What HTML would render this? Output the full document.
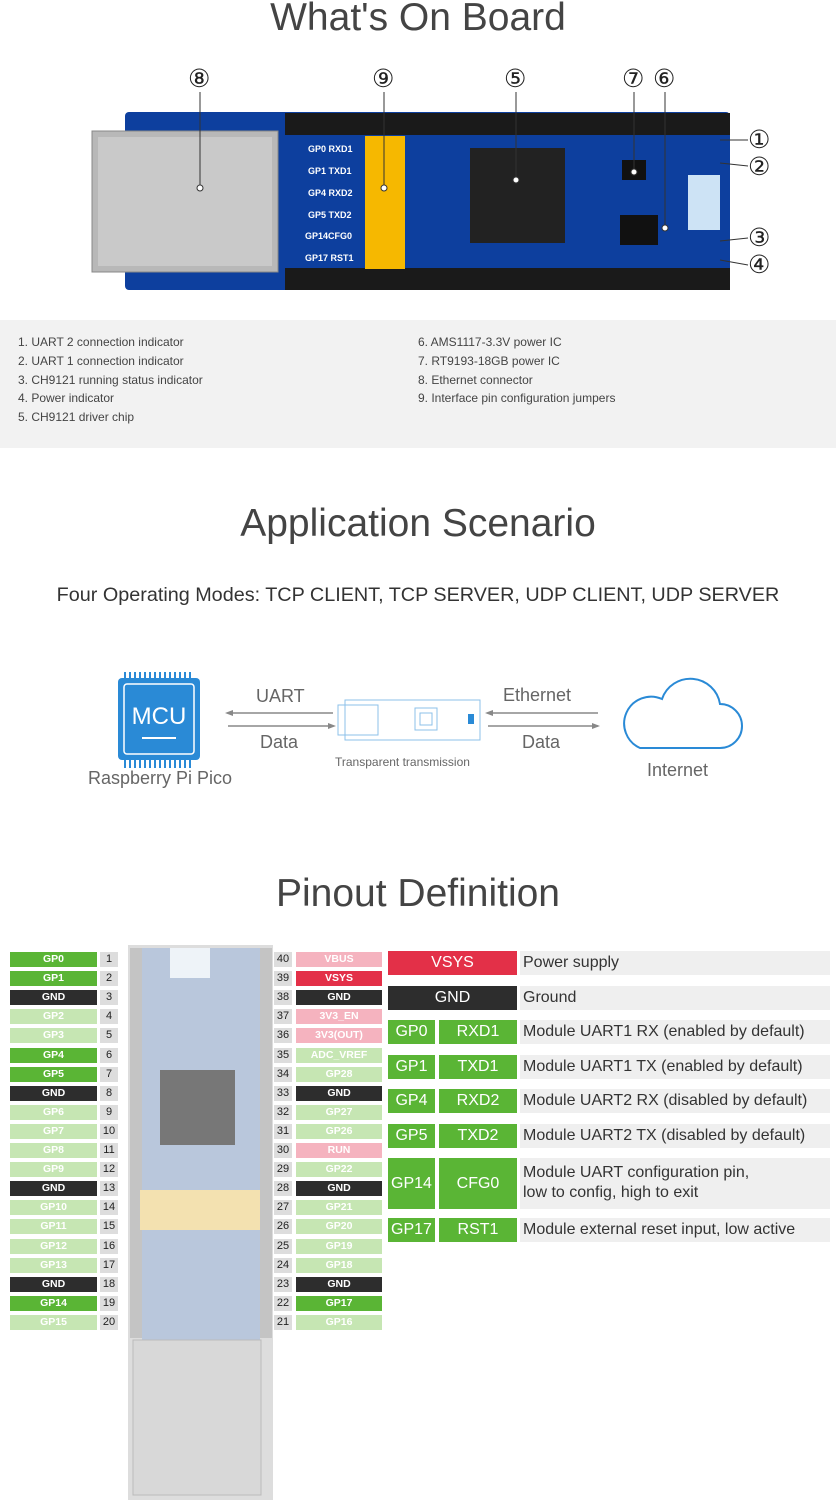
<!DOCTYPE html><html><head><meta charset="utf-8"><style>
body{margin:0;width:836px;height:1500px;position:relative;background:#fff;font-family:"Liberation Sans",sans-serif;overflow:hidden}
.a{position:absolute}
.t{position:absolute;left:0;width:836px;text-align:center;color:#444;font-size:39px}
.c{position:absolute;font-size:25px;color:#222;line-height:1}
.gl{position:absolute;font-size:12px;color:#444}
.p{position:absolute;height:15px;font-size:10.5px;font-weight:bold;color:#fff;text-align:center;line-height:15px}
.n{position:absolute;height:15px;width:18px;background:#ddd;font-size:11px;color:#222;text-align:center;line-height:15px}
.B{background:#5ab535}.L{background:#c6e6b3}.K{background:#2d2d2d}.P{background:#f5b3bf}.R{background:#e33048}
.r{position:absolute;color:#fff;font-size:16px;text-align:center}
.d{position:absolute;left:520px;width:310px;background:#efefef;font-size:16px;color:#333;padding-left:3px;box-sizing:border-box}
</style></head><body>
<div class="t" style="top:-4px">What's On Board</div>
<div class="c" style="left:188px;top:67px">⑧</div>
<div class="c" style="left:372px;top:67px">⑨</div>
<div class="c" style="left:504px;top:67px">⑤</div>
<div class="c" style="left:622px;top:67px">⑦</div>
<div class="c" style="left:653px;top:67px">⑥</div>
<div class="c" style="left:748px;top:128px">①</div>
<div class="c" style="left:748px;top:155px">②</div>
<div class="c" style="left:748px;top:226px">③</div>
<div class="c" style="left:748px;top:253px">④</div>
<svg class="a" style="left:0;top:0" width="836" height="300">
<rect x="125" y="112" width="605" height="178" rx="4" fill="#0d3f9e"/>
<rect x="285" y="113" width="445" height="22" fill="#1a1a1a"/>
<rect x="285" y="268" width="445" height="22" fill="#1a1a1a"/>
<rect x="92" y="131" width="186" height="141" fill="#b8b8b8" stroke="#888"/>
<rect x="98" y="137" width="174" height="129" fill="#c9c9c9"/>
<rect x="365" y="136" width="40" height="133" fill="#f6b800"/>
<rect x="470" y="148" width="95" height="95" fill="#222"/>
<rect x="620" y="215" width="38" height="30" fill="#111"/>
<rect x="622" y="160" width="24" height="20" fill="#111"/>
<rect x="688" y="175" width="32" height="55" fill="#cde3f5"/>
<text x="308" y="152" fill="#fff" font-size="9" font-weight="bold">GP0 RXD1</text>
<text x="308" y="174" fill="#fff" font-size="9" font-weight="bold">GP1 TXD1</text>
<text x="308" y="196" fill="#fff" font-size="9" font-weight="bold">GP4 RXD2</text>
<text x="308" y="218" fill="#fff" font-size="9" font-weight="bold">GP5 TXD2</text>
<text x="305" y="239" fill="#fff" font-size="9" font-weight="bold">GP14CFG0</text>
<text x="305" y="261" fill="#fff" font-size="9" font-weight="bold">GP17 RST1</text>
<g stroke="#333" fill="none"><line x1="200" y1="92" x2="200" y2="188"/><line x1="384" y1="92" x2="384" y2="188"/><line x1="516" y1="92" x2="516" y2="180"/><line x1="634" y1="92" x2="634" y2="172"/><line x1="665" y1="92" x2="665" y2="228"/>
<line x1="720" y1="140" x2="748" y2="140"/><line x1="720" y1="163" x2="748" y2="166"/><line x1="720" y1="241" x2="748" y2="238"/><line x1="720" y1="260" x2="748" y2="265"/></g>
<g fill="#fff" stroke="#333"><circle cx="200" cy="188" r="3"/><circle cx="384" cy="188" r="3"/><circle cx="516" cy="180" r="3"/><circle cx="634" cy="172" r="3"/><circle cx="665" cy="228" r="3"/></g>
</svg>
<div class="a" style="left:0;top:320px;width:836px;height:128px;background:#f2f2f2"></div>
<div class="gl" style="left:18px;top:333px;line-height:18.8px">1. UART 2 connection indicator<br>2. UART 1 connection indicator<br>3. CH9121 running status indicator<br>4. Power indicator<br>5. CH9121 driver chip</div>
<div class="gl" style="left:418px;top:333px;line-height:18.8px">6. AMS1117-3.3V power IC<br>7. RT9193-18GB power IC<br>8. Ethernet connector<br>9. Interface pin configuration jumpers</div>
<div class="t" style="top:502px">Application Scenario</div>
<div class="a" style="left:0;width:836px;top:584px;text-align:center;font-size:19.8px;color:#333">Four Operating Modes: TCP CLIENT, TCP SERVER, UDP CLIENT, UDP SERVER</div>
<svg class="a" style="left:0;top:660px" width="836" height="140">
<g stroke="#2a8ad6" stroke-width="2">
<path d="M125 20v-8M130 20v-8M135 20v-8M140 20v-8M145 20v-8M150 20v-8M155 20v-8M160 20v-8M165 20v-8M170 20v-8M175 20v-8M180 20v-8M185 20v-8M190 20v-8
M125 108v-8M130 108v-8M135 108v-8M140 108v-8M145 108v-8M150 108v-8M155 108v-8M160 108v-8M165 108v-8M170 108v-8M175 108v-8M180 108v-8M185 108v-8M190 108v-8"/>
</g>
<rect x="118" y="18" width="82" height="82" rx="4" fill="#2a8ad6"/>
<rect x="124" y="24" width="70" height="70" rx="3" fill="none" stroke="#fff" stroke-width="1.5"/>
<text x="159" y="64" fill="#fff" font-size="24" text-anchor="middle">MCU</text>
<line x1="142" y1="78" x2="176" y2="78" stroke="#fff" stroke-width="2"/>
<g stroke="#888" stroke-width="1.5" fill="#888"><line x1="228" y1="53" x2="333" y2="53"/><line x1="228" y1="66" x2="333" y2="66"/><line x1="488" y1="53" x2="598" y2="53"/><line x1="488" y1="66" x2="598" y2="66"/></g>
<g fill="#888"><path d="M225 53l8-3v6z"/><path d="M336 66l-8-3v6z"/><path d="M485 53l8-3v6z"/><path d="M600 66l-8-3v6z"/></g>
<g fill="none" stroke="#8cc1ea"><rect x="345" y="40" width="135" height="40"/><rect x="338" y="45" width="40" height="30"/><rect x="415" y="48" width="22" height="22"/><rect x="420" y="53" width="12" height="12"/></g>
<rect x="468" y="54" width="6" height="10" fill="#2a8ad6"/>
<path d="M640 88 h80 a22 22 0 0 0 0-44 a30 30 0 0 0-58-5 a22 22 0 0 0-22 49z" fill="none" stroke="#2a8ad6" stroke-width="2"/>
</svg>
<div class="a" style="left:256px;top:686px;font-size:18px;color:#666">UART</div>
<div class="a" style="left:260px;top:732px;font-size:18px;color:#666">Data</div>
<div class="a" style="left:503px;top:685px;font-size:18px;color:#666">Ethernet</div>
<div class="a" style="left:522px;top:732px;font-size:18px;color:#666">Data</div>
<div class="a" style="left:88px;top:768px;font-size:18px;color:#666">Raspberry Pi Pico</div>
<div class="a" style="left:335px;top:755px;font-size:12px;color:#666">Transparent transmission</div>
<div class="a" style="left:647px;top:760px;font-size:18px;color:#666">Internet</div>
<div class="t" style="top:872px">Pinout Definition</div>
<svg class="a" style="left:0;top:940px" width="836" height="560">
<rect x="128" y="5" width="145" height="555" fill="#ddd"/>
<rect x="142" y="8" width="118" height="500" fill="#b9c7dc"/>
<rect x="130" y="8" width="12" height="390" fill="#c4c4c4"/>
<rect x="260" y="8" width="12" height="390" fill="#c4c4c4"/>
<rect x="170" y="8" width="40" height="30" fill="#eef3f8"/>
<rect x="160" y="130" width="75" height="75" fill="#777"/>
<rect x="140" y="250" width="120" height="40" fill="#f3e1b0"/>
<rect x="133" y="400" width="128" height="155" fill="#d8d8d8" stroke="#bbb"/>
</svg>
<div id="L"></div>
<script>
var L=[["GP0","B"],["GP1","B"],["GND","K"],["GP2","L"],["GP3","L"],["GP4","B"],["GP5","B"],["GND","K"],["GP6","L"],["GP7","L"],["GP8","L"],["GP9","L"],["GND","K"],["GP10","L"],["GP11","L"],["GP12","L"],["GP13","L"],["GND","K"],["GP14","B"],["GP15","L"]];
var R=[["VBUS","P"],["VSYS","R"],["GND","K"],["3V3_EN","P"],["3V3(OUT)","P"],["ADC_VREF","L"],["GP28","L"],["GND","K"],["GP27","L"],["GP26","L"],["RUN","P"],["GP22","L"],["GND","K"],["GP21","L"],["GP20","L"],["GP19","L"],["GP18","L"],["GND","K"],["GP17","B"],["GP16","L"]];
var h="";for(var i=0;i<20;i++){var y=952+i*19.1;
h+='<div class="p '+L[i][1]+'" style="left:10px;width:87px;top:'+y+'px">'+L[i][0]+'</div><div class="n" style="left:100px;top:'+y+'px">'+(i+1)+'</div>';
h+='<div class="n" style="left:274px;top:'+y+'px">'+(40-i)+'</div><div class="p '+R[i][1]+'" style="left:296px;width:86px;top:'+y+'px">'+R[i][0]+'</div>';}
document.getElementById("L").innerHTML=h;
</script>
<div class="r R" style="left:388px;width:129px;top:951px;height:24px;line-height:24px">VSYS</div><div class="d" style="top:951px;height:24px;line-height:24px">Power supply</div>
<div class="r K" style="left:388px;width:129px;top:986px;height:24px;line-height:24px">GND</div><div class="d" style="top:986px;height:24px;line-height:24px">Ground</div>
<div class="r B" style="left:388px;width:47px;top:1020px;height:24px;line-height:24px">GP0</div><div class="r B" style="left:439px;width:78px;top:1020px;height:24px;line-height:24px">RXD1</div><div class="d" style="top:1020px;height:24px;line-height:24px">Module UART1 RX (enabled by default)</div>
<div class="r B" style="left:388px;width:47px;top:1055px;height:24px;line-height:24px">GP1</div><div class="r B" style="left:439px;width:78px;top:1055px;height:24px;line-height:24px">TXD1</div><div class="d" style="top:1055px;height:24px;line-height:24px">Module UART1 TX (enabled by default)</div>
<div class="r B" style="left:388px;width:47px;top:1089px;height:24px;line-height:24px">GP4</div><div class="r B" style="left:439px;width:78px;top:1089px;height:24px;line-height:24px">RXD2</div><div class="d" style="top:1089px;height:24px;line-height:24px">Module UART2 RX (disabled by default)</div>
<div class="r B" style="left:388px;width:47px;top:1124px;height:24px;line-height:24px">GP5</div><div class="r B" style="left:439px;width:78px;top:1124px;height:24px;line-height:24px">TXD2</div><div class="d" style="top:1124px;height:24px;line-height:24px">Module UART2 TX (disabled by default)</div>
<div class="r B" style="left:388px;width:47px;top:1158px;height:51px;line-height:51px">GP14</div><div class="r B" style="left:439px;width:78px;top:1158px;height:51px;line-height:51px">CFG0</div><div class="d" style="top:1158px;height:51px;line-height:20px;padding-top:5px">Module UART configuration pin,<br>low to config, high to exit</div>
<div class="r B" style="left:388px;width:47px;top:1218px;height:24px;line-height:24px">GP17</div><div class="r B" style="left:439px;width:78px;top:1218px;height:24px;line-height:24px">RST1</div><div class="d" style="top:1218px;height:24px;line-height:24px">Module external reset input, low active</div>
</body></html>
